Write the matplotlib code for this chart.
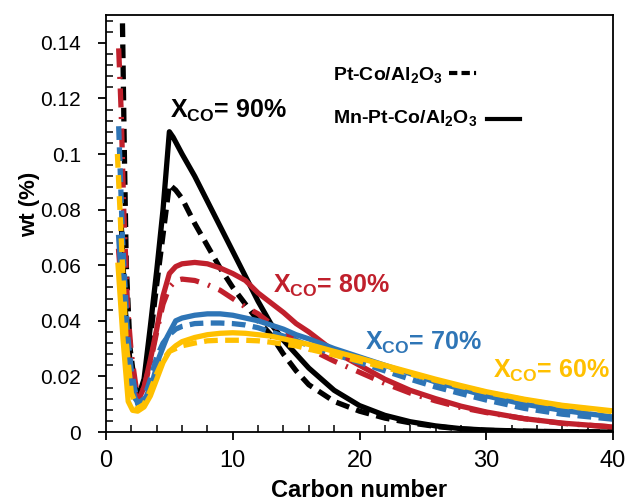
import numpy as np
import matplotlib.pyplot as plt
from matplotlib.ticker import MultipleLocator, FuncFormatter
from matplotlib.lines import Line2D

plt.rcParams['font.family'] = ['Liberation Sans', 'DejaVu Sans']
plt.rcParams['mathtext.fontset'] = 'custom'
plt.rcParams['mathtext.rm'] = 'Liberation Sans:bold'
plt.rcParams['mathtext.it'] = 'Liberation Sans:bold'
plt.rcParams['mathtext.bf'] = 'Liberation Sans:bold'

# ---- dados ----
# X_CO = 90 %
c90_mn = [1.2, 1.5, 2.0, 2.5, 3.0, 3.5, 4.0, 4.5, 5.0, 5.3, 6, 7, 8, 9, 10, 11, 12, 13, 14, 15,
          16, 18, 20, 22, 24, 26, 28, 30, 33, 36, 40]
w90_mn = [0.075, 0.045, 0.020, 0.012, 0.019, 0.038, 0.058, 0.080, 0.108, 0.106, 0.100, 0.092,
          0.083, 0.074, 0.065, 0.056, 0.047, 0.039, 0.033, 0.028, 0.023, 0.015, 0.0095, 0.006,
          0.0037, 0.0022, 0.0012, 0.0007, 0.0003, 0.0001, 0.0]
c90_pt = [1.3, 1.45, 1.6, 1.9, 2.3, 2.7, 3.1, 3.5, 4.0, 4.5, 5.0, 5.5, 6, 7, 8, 9, 10, 11, 12,
          13, 14, 15, 16, 18, 20, 22, 24, 26, 28, 30, 34, 40]
w90_pt = [0.147, 0.100, 0.060, 0.030, 0.016, 0.013, 0.020, 0.034, 0.053, 0.071, 0.089, 0.087,
          0.084, 0.075, 0.067, 0.059, 0.052, 0.046, 0.040, 0.035, 0.028, 0.022, 0.017, 0.011,
          0.0075, 0.005, 0.0033, 0.002, 0.0011, 0.0006, 0.0002, 0.0]

# X_CO = 80 %
c80_mn = [1.0, 1.5, 2.0, 2.5, 3.0, 3.5, 4.0, 4.5, 5.0, 5.5, 6, 7, 8, 9, 10, 11, 12, 13, 14, 15,
          16, 18, 20, 22, 24, 26, 28, 30, 33, 36, 40]
w80_mn = [0.065, 0.035, 0.018, 0.011, 0.016, 0.026, 0.037, 0.049, 0.057, 0.0595, 0.0605, 0.061,
          0.0605, 0.059, 0.057, 0.0545, 0.050, 0.0465, 0.043, 0.039, 0.036, 0.029, 0.024, 0.019,
          0.015, 0.012, 0.0093, 0.0072, 0.0048, 0.0032, 0.0018]
c80_pt = [1.0, 1.2, 1.4, 1.7, 2.0, 2.5, 3.0, 3.5, 4.0, 4.5, 5.0, 5.5, 6, 7, 8, 9, 10, 11, 12, 13,
          14, 15, 16, 18, 20, 22, 24, 26, 28, 30, 33, 36, 40]
w80_pt = [0.138, 0.115, 0.080, 0.045, 0.028, 0.012, 0.016, 0.025, 0.036, 0.046, 0.052, 0.0545,
          0.055, 0.0545, 0.053, 0.051, 0.048, 0.045, 0.0425, 0.039, 0.036, 0.033, 0.030, 0.0255,
          0.0215, 0.0175, 0.014, 0.0112, 0.0088, 0.007, 0.0048, 0.0031, 0.0018]

# X_CO = 70 %
c70_mn = [1.0, 1.5, 1.9, 2.3, 2.7, 3.2, 3.7, 4.2, 4.8, 5.5, 6, 7, 8, 9, 10, 11, 12, 13, 14, 15,
          16, 18, 20, 22, 24, 26, 28, 30, 33, 36, 40]
w70_mn = [0.070, 0.035, 0.019, 0.012, 0.0097, 0.013, 0.0187, 0.027, 0.034, 0.040, 0.041, 0.042,
          0.0425, 0.0425, 0.042, 0.041, 0.040, 0.0385, 0.037, 0.035, 0.0335, 0.030, 0.027,
          0.024, 0.021, 0.018, 0.0155, 0.013, 0.010, 0.0078, 0.0054]
c70_pt = [1.0, 1.3, 1.7, 2.0, 2.5, 3.0, 3.5, 4.0, 4.5, 5.0, 5.5, 6, 7, 8, 9, 10, 11, 12, 13, 14,
          15, 16, 18, 20, 22, 24, 26, 28, 30, 33, 36, 40]
w70_pt = [0.110, 0.070, 0.035, 0.022, 0.010, 0.012, 0.019, 0.027, 0.032, 0.035, 0.037, 0.038,
          0.039, 0.0392, 0.0392, 0.039, 0.0385, 0.0375, 0.036, 0.0345, 0.033, 0.031, 0.028,
          0.025, 0.022, 0.019, 0.0162, 0.0138, 0.0115, 0.0085, 0.0064, 0.0046]

# X_CO = 60 %
c60_mn = [0.95, 1.35, 1.75, 2.1, 2.5, 3.0, 3.5, 4.0, 4.5, 5.0, 5.5, 6, 7, 8, 9, 10, 11, 12, 13,
          14, 15, 16, 18, 20, 22, 24, 26, 28, 30, 33, 36, 40]
w60_mn = [0.060, 0.033, 0.011, 0.0078, 0.0075, 0.009, 0.013, 0.019, 0.025, 0.029, 0.031, 0.0325,
          0.034, 0.035, 0.0355, 0.0357, 0.0355, 0.035, 0.0345, 0.0335, 0.0325, 0.0315, 0.029,
          0.0266, 0.024, 0.0215, 0.019, 0.0167, 0.0145, 0.0118, 0.0096, 0.0076]
c60_pt = [0.9, 1.3, 1.6, 2.0, 2.5, 3.0, 3.5, 4.0, 4.5, 5.0, 5.5, 6, 7, 8, 9, 10, 11, 12, 13, 14,
          15, 16, 18, 20, 22, 24, 26, 28, 30, 33, 36, 40]
w60_pt = [0.100, 0.060, 0.032, 0.014, 0.0085, 0.010, 0.015, 0.021, 0.026, 0.029, 0.030, 0.031,
          0.032, 0.0328, 0.033, 0.033, 0.033, 0.0328, 0.0323, 0.0316, 0.031, 0.0298, 0.0277,
          0.0255, 0.0232, 0.0209, 0.0186, 0.0164, 0.0143, 0.0116, 0.0094, 0.0073]

preto = 'black'
vermelho = '#C0202C'
azul = '#2E75B6'
amarelo = '#FFC000'

fig = plt.figure(figsize=(6.27, 5.04), dpi=100)
ax = fig.add_axes([106/627, 1-432/504, 507/627, 417/504])

lw = 3.8
tracejado = (0, (2.6, 1.4))
traco_ponto = (0, (3.6, 1.8, 0.4, 1.8))

ax.plot(c90_pt, w90_pt, color=preto, lw=lw, ls=tracejado)
ax.plot(c90_mn, w90_mn, color=preto, lw=lw)
ax.plot(c80_pt, w80_pt, color=vermelho, lw=lw, ls=traco_ponto)
ax.plot(c80_mn, w80_mn, color=vermelho, lw=lw)
ax.plot(c70_pt, w70_pt, color=azul, lw=lw, ls=tracejado)
ax.plot(c70_mn, w70_mn, color=azul, lw=lw)
ax.plot(c60_pt, w60_pt, color=amarelo, lw=lw, ls=tracejado)
ax.plot(c60_mn, w60_mn, color=amarelo, lw=lw)

ax.set_xlim(0, 40)
ax.set_ylim(0, 0.15)

# ticks: principais para fora, secundarios para dentro
ax.xaxis.set_major_locator(MultipleLocator(10))
ax.xaxis.set_minor_locator(MultipleLocator(2))
ax.yaxis.set_major_locator(MultipleLocator(0.02))
ax.yaxis.set_minor_locator(MultipleLocator(0.004))
ax.yaxis.set_major_formatter(FuncFormatter(lambda v, p: '{:g}'.format(round(v, 3))))
ax.tick_params(which='major', direction='out', length=6, width=1.3, labelsize=15)
ax.tick_params(which='minor', direction='in', length=5, width=1.1)
ax.tick_params(axis='y', which='major', pad=12)
ax.tick_params(axis='x', which='major', pad=7, labelsize=17)
for s in ax.spines.values():
    s.set_linewidth(1.3)

ax.set_xlabel('Carbon number', fontsize=17, fontweight='bold')
ax.set_ylabel('wt (%)', fontsize=16, fontweight='bold')
ax.xaxis.set_label_coords(0.5, -0.112)
ax.yaxis.set_label_coords(-0.13, 0.545)

# rotulos das conversoes
ax.text(0.126, 0.753, r'X$_{CO}$= 90%', transform=ax.transAxes, fontsize=18,
        fontweight='bold', color=preto)
ax.text(0.329, 0.333, r'X$_{CO}$= 80%', transform=ax.transAxes, fontsize=18,
        fontweight='bold', color=vermelho)
ax.text(0.511, 0.197, r'X$_{CO}$= 70%', transform=ax.transAxes, fontsize=18,
        fontweight='bold', color=azul)
ax.text(0.763, 0.129, r'X$_{CO}$= 60%', transform=ax.transAxes, fontsize=18,
        fontweight='bold', color=amarelo)

# legenda manual
ax.text(0.448, 0.856, r'Pt-Co/Al$_2$O$_3$', transform=ax.transAxes, fontsize=14,
        fontweight='bold', va='center')
ax.text(0.448, 0.753, r'Mn-Pt-Co/Al$_2$O$_3$', transform=ax.transAxes, fontsize=14,
        fontweight='bold', va='center')
ax.add_line(Line2D([0.677, 0.738], [0.861, 0.861], transform=ax.transAxes, color=preto,
                   lw=3, ls=(0, (2.0, 1.0, 2.0, 1.0, 0.5, 1.0))))
ax.add_line(Line2D([0.751, 0.817], [0.751, 0.751], transform=ax.transAxes, color=preto, lw=3))

plt.savefig('out.png', dpi=100)
